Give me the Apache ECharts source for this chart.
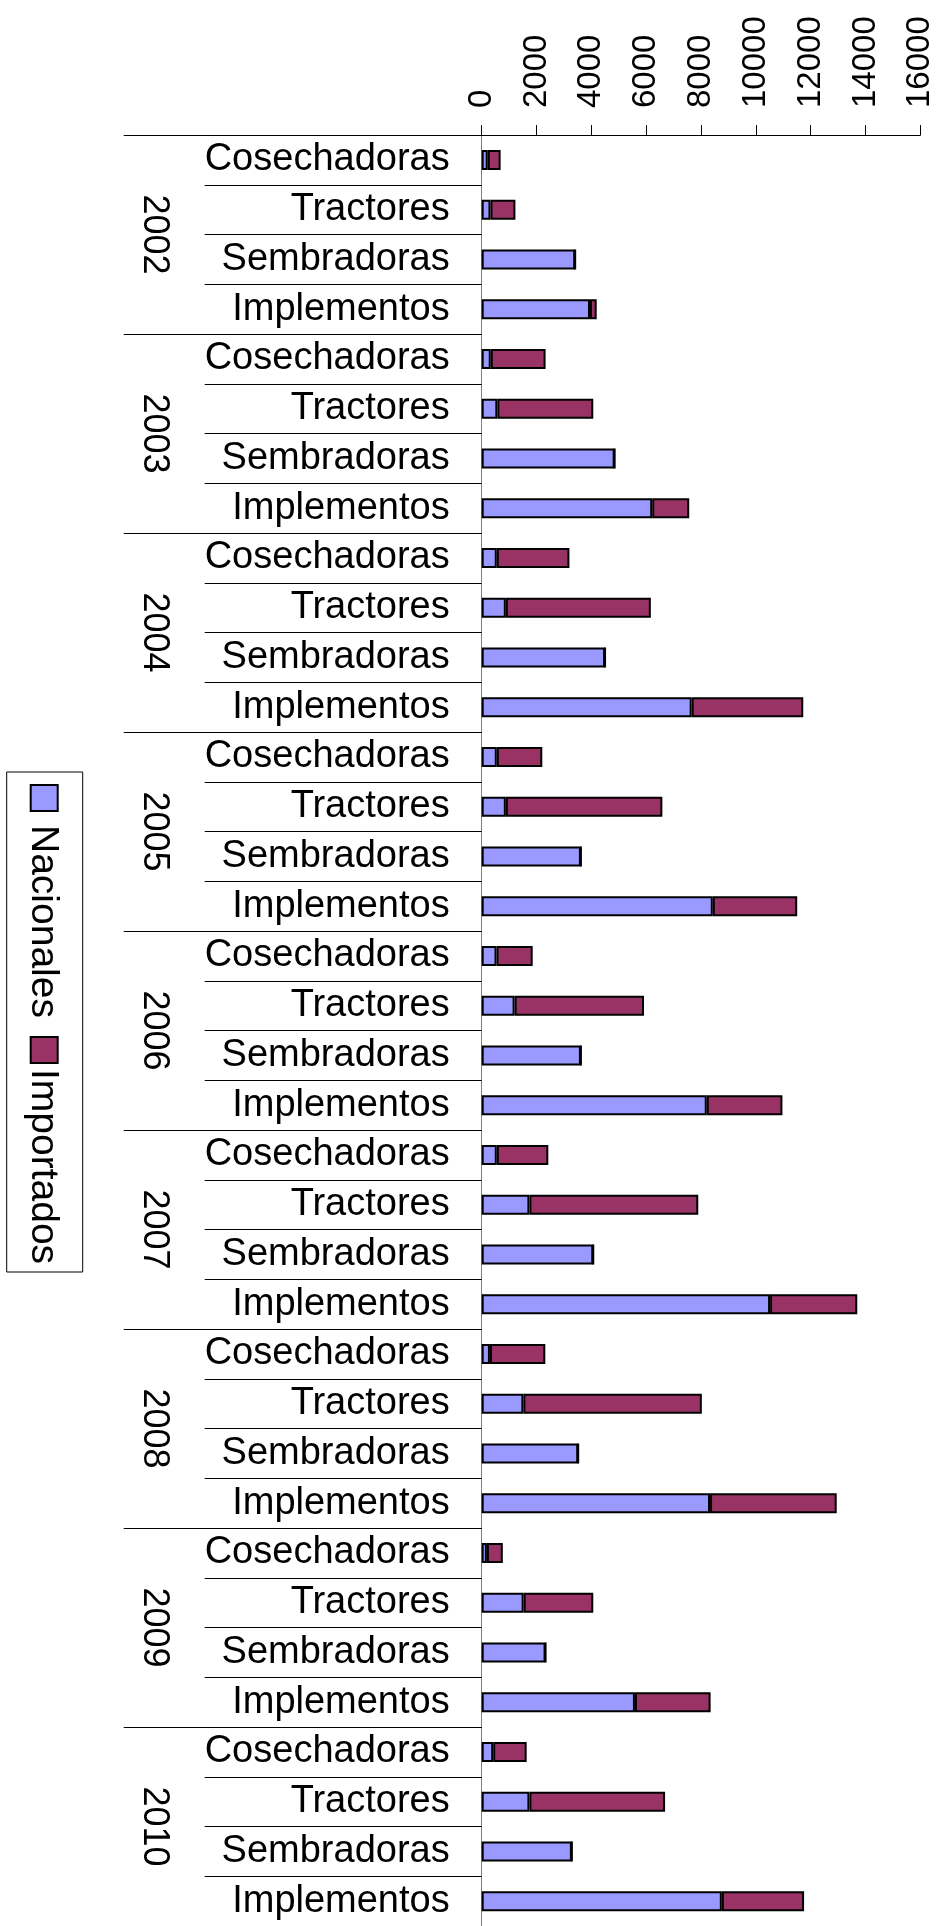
<!DOCTYPE html>
<html>
<head>
<meta charset="utf-8">
<script src="https://cdn.jsdelivr.net/npm/echarts@6/dist/echarts.min.js"></script>
<style>
  html, body { margin: 0; padding: 0; background: #fff; }
  #chart { width: 942px; height: 1926px; }
</style>
</head>
<body>
<div id="chart"></div>
<script>
// categories
const years = ["2002", "2003", "2004", "2005", "2006", "2007", "2008", "2009", "2010"];
const machines = ["Cosechadoras", "Tractores", "Sembradoras", "Implementos"];

// one line per year: Cosechadoras, Tractores, Sembradoras, Implementos
const nacionales = [
  220, 320, 3410, 3950,
  330, 570, 4850, 6220,
  550, 880, 4500, 7660,
  550, 880, 3620, 8430,
  540, 1200, 3620, 8210,
  550, 1740, 4070, 10520,
  300, 1520, 3520, 8330,
  190, 1530, 2330, 5590,
  420, 1740, 3290, 8760,
];
const importados = [
  470, 910, 0, 245,
  2000, 3500, 0, 1350,
  2650, 5290, 0, 4070,
  1660, 5710, 0, 3080,
  1320, 4720, 0, 2760,
  1880, 6160, 0, 3180,
  2020, 6510, 0, 4620,
  580, 2540, 0, 2760,
  1220, 4950, 0, 3000,
];

const seriesNames = ["Nacionales", "Importados"];
const seriesColors = ["#9999FF", "#993366"];

// value axis
const axisMin = 0;
const axisMax = 16000;
const axisStep = 2000;

const FONT = "'Liberation Sans', Arial, sans-serif";

const categories = years.flatMap(() => machines);

const chart = echarts.init(document.getElementById("chart"));

chart.setOption({
  animation: false,
  backgroundColor: "#fff",
  grid: {
    left: 481.7,
    top: 135,
    width: 438.6,
    height: 1800,
    containLabel: false,
  },
  xAxis: {
    type: "value",
    position: "top",
    min: axisMin,
    max: axisMax,
    interval: axisStep,
    axisLine: { show: true, lineStyle: { color: "#000", width: 1 } },
    axisTick: { show: true, length: 10, lineStyle: { color: "#000", width: 1 } },
    splitLine: { show: false },
    axisLabel: {
      rotate: -90,
      margin: 27,
      fontSize: 33,
      color: "#000",
      fontFamily: FONT,
      formatter: (v) => String(v),
    },
  },
  yAxis: [
    {
      // machine types
      type: "category",
      data: categories,
      inverse: true,
      position: "left",
      axisLine: { show: true, lineStyle: { color: "#808080", width: 1 } },
      axisTick: { show: true, interval: 0, length: 277, lineStyle: { color: "#000", width: 1 } },
      axisLabel: {
        interval: 0,
        margin: 32,
        fontSize: 38,
        color: "#000",
        fontFamily: FONT,
      },
    },
    {
      // years
      type: "category",
      data: years,
      inverse: true,
      position: "left",
      offset: 0,
      axisLine: { show: false },
      axisTick: { show: true, interval: 0, length: 358, lineStyle: { color: "#000", width: 1 } },
      axisLabel: {
        interval: 0,
        rotate: -90,
        margin: 310,
        fontSize: 36,
        color: "#000",
        fontFamily: FONT,
      },
    },
  ],
  series: [nacionales, importados].map((values, i) => ({
    name: seriesNames[i],
    type: "bar",
    stack: "total",
    yAxisIndex: 0,
    barWidth: 20,
    data: values,
    itemStyle: {
      color: seriesColors[i],
      borderColor: "#000",
      borderWidth: 2,
    },
  })),
  graphic: [
    {
      // legend, turned like the rest of the chart
      type: "group",
      x: 82.7,
      y: 772,
      rotation: -Math.PI / 2,
      children: [
        {
          type: "rect",
          shape: { x: 0, y: 0, width: 500, height: 76 },
          style: { fill: "#fff", stroke: "#000", lineWidth: 1 },
        },
        {
          type: "rect",
          shape: { x: 13, y: 25, width: 26, height: 27 },
          style: { fill: seriesColors[0], stroke: "#000", lineWidth: 2 },
        },
        {
          type: "text",
          x: 53,
          y: 40,
          style: { text: seriesNames[0], fontSize: 39, fontFamily: FONT, fill: "#000", verticalAlign: "middle" },
        },
        {
          type: "rect",
          shape: { x: 265, y: 25, width: 26, height: 27 },
          style: { fill: seriesColors[1], stroke: "#000", lineWidth: 2 },
        },
        {
          type: "text",
          x: 297,
          y: 40,
          style: { text: seriesNames[1], fontSize: 39, fontFamily: FONT, fill: "#000", verticalAlign: "middle" },
        },
      ],
    },
  ],
});
</script>
</body>
</html>
